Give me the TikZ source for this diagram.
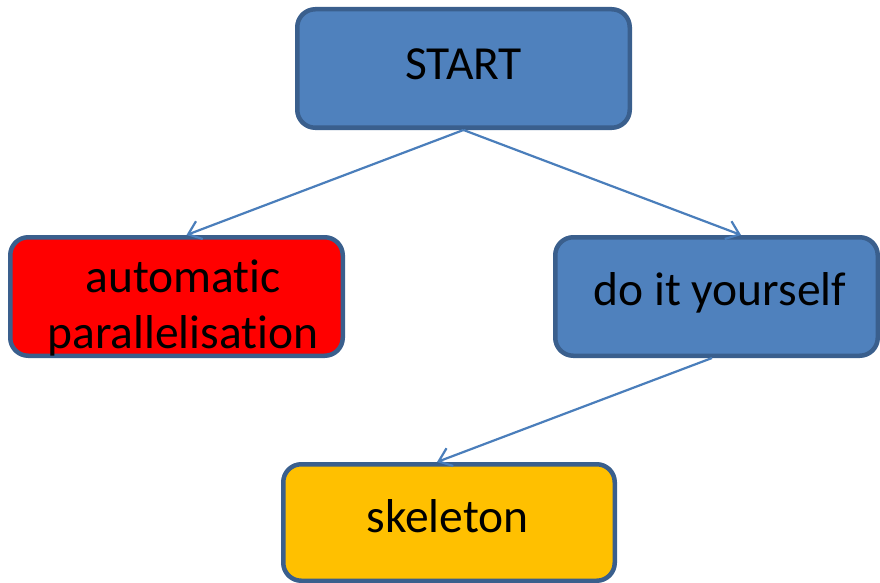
\documentclass[tikz,border=0pt]{standalone}
\usepackage{fontspec}
\setmainfont{Carlito}[RawFeature={-liga;-clig;-calt;-dlig}]
\usetikzlibrary{arrows.meta}
\definecolor{boxblue}{HTML}{4F81BD}
\definecolor{boxedge}{HTML}{3A5F8D}
\definecolor{boxred}{HTML}{FF0000}
\definecolor{boxgold}{HTML}{FFC000}
\definecolor{linkblue}{HTML}{4A7EBB}
\begin{document}
\begin{tikzpicture}[x=1pt,y=-1pt,
  box/.style={draw=boxedge, line width=4.5pt, rounded corners=18pt, inner sep=0pt},
  lbl/.style={anchor=base, font=\fontsize{47.5}{56}\selectfont, inner sep=0pt, align=center},
  link/.style={draw=linkblue, line width=2.2pt, -{Straight Barb[length=12pt,width=19pt]}}]
\useasboundingbox (0,0) rectangle (880,583);

% boxes
\node[box, fill=boxblue, minimum width=332.5pt, minimum height=118.5pt] (start) at (463.5,68.5) {};
\node[box, fill=boxred,  minimum width=332.5pt, minimum height=118.5pt] (auto)  at (176.5,296.5) {};
\node[box, fill=boxblue, minimum width=322.5pt, minimum height=118.5pt] (diy)   at (716.5,296.5) {};
\node[box, fill=boxgold, minimum width=331.5pt, minimum height=116.5pt] (skel)  at (449,522.5) {};

% labels
\node[lbl] (tstart) at (463.5,80) {START};
\node[lbl] (tauto)  at (183,348) {automatic\\parallelisation};
\node[lbl] (tdiy)   at (720,305) {do it yourself};
\node[lbl] (tskel)  at (447.5,532) {skeleton};

% connectors
\draw[link] (start.south) -- ([xshift=10pt]auto.north);
\draw[link] (start.south) -- ([xshift=24.5pt]diy.north);
\draw[link] ([xshift=-4.5pt]diy.south) -- ([xshift=-12pt]skel.north);
\end{tikzpicture}
\end{document}
